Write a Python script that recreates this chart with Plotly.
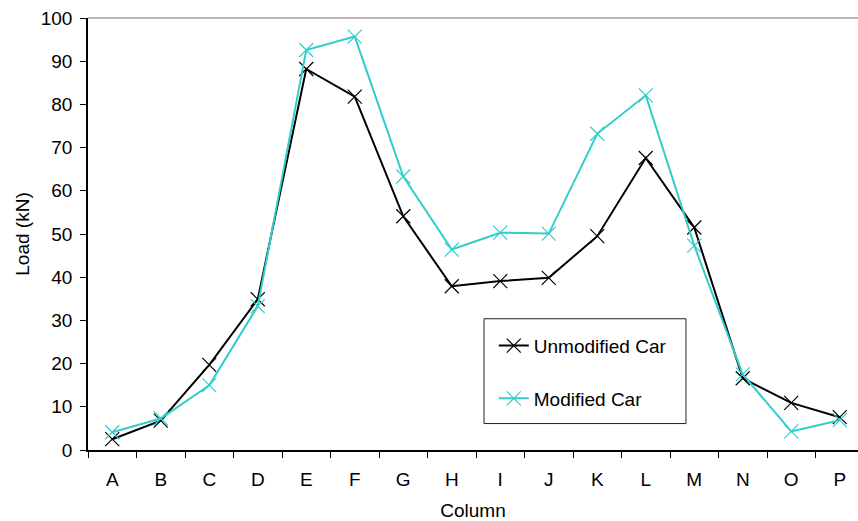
import plotly.graph_objects as go

columns = ["A", "B", "C", "D", "E", "F", "G", "H", "I", "J", "K", "L", "M", "N", "O", "P"]
unmodified = [2.5, 6.8, 19.7, 34.9, 88.2, 81.8, 54.1, 37.9, 39.1, 39.85, 49.5, 67.6, 51.5, 16.6, 10.9, 7.6]
modified = [4.1, 7.3, 15.0, 33.3, 92.6, 95.7, 63.3, 46.4, 50.3, 50.1, 73.2, 82.1, 47.3, 17.5, 4.3, 6.9]
y_ticks = [0, 10, 20, 30, 40, 50, 60, 70, 80, 90, 100]

FONT = "Liberation Sans, Arial, sans-serif"

fig = go.Figure()
fig.add_trace(go.Scatter(
    x=columns, y=unmodified, name="Unmodified Car", mode="lines+markers",
    line=dict(color="#000000", width=2),
    marker=dict(symbol="x-thin", size=14, line=dict(color="#000000", width=1.2)),
    legendgroup="a",
))
fig.add_trace(go.Scatter(
    x=columns, y=modified, name="Modified Car", mode="lines+markers",
    line=dict(color="#33CCCC", width=2),
    marker=dict(symbol="x-thin", size=14, line=dict(color="#33CCCC", width=1.2)),
    legendgroup="b",
))

fig.update_layout(
    width=858, height=521,
    margin=dict(l=88, r=0, t=18, b=71),
    paper_bgcolor="white", plot_bgcolor="white",
    font=dict(family=FONT, size=19, color="#000000"),
    showlegend=True,
    legend=dict(
        x=0.527, y=0.2853, xanchor="left", yanchor="top",
        borderwidth=0, bgcolor="rgba(0,0,0,0)",
        font=dict(family=FONT, size=19),
        traceorder="grouped", tracegroupgap=25,
        itemwidth=30,
    ),
    shapes=[
        dict(type="line", xref="paper", yref="paper", x0=0, x1=1, y0=1, y1=1,
             line=dict(color="#A0A0A0", width=1.5), layer="below"),
        dict(type="rect", xref="paper", yref="paper", x0=0.5143, x1=0.7766, y0=0.0612, y1=0.3038,
             line=dict(color="#222222", width=1), fillcolor="white", layer="above"),
    ],
)

fig.update_xaxes(
    type="category", categoryorder="array", categoryarray=columns,
    range=[-0.5, 15.376],
    tickson="boundaries", ticks="outside", ticklen=6, tickwidth=1.2, tickcolor="#000000",
    showline=True, linecolor="#000000", linewidth=1.5,
    showgrid=False, zeroline=False,
    ticklabelstandoff=11,
    title=dict(text="Column", font=dict(family=FONT, size=19), standoff=17),
)
fig.update_yaxes(
    range=[0, 100], tickvals=y_ticks,
    ticks="outside", ticklen=6, tickwidth=1.2, tickcolor="#000000",
    showline=True, linecolor="#000000", linewidth=1.5,
    showgrid=False, zeroline=False,
    ticklabelstandoff=4,
    title=dict(text="Load (kN)", font=dict(family=FONT, size=19), standoff=6),
)

fig.write_html("out.html")
